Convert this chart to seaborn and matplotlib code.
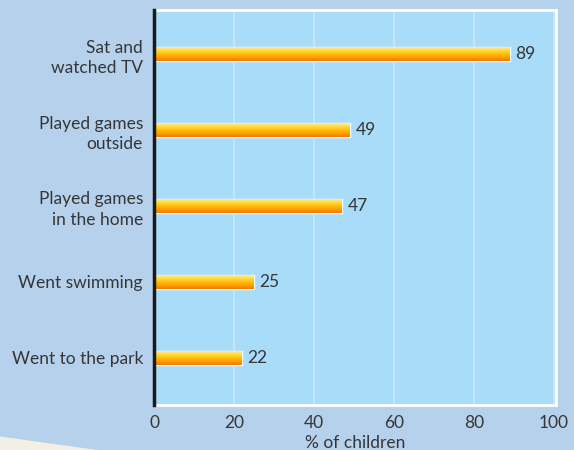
import numpy as np
import matplotlib.pyplot as plt
import seaborn as sns
import pandas as pd
from matplotlib.colors import LinearSegmentedColormap
from matplotlib.patches import Polygon

activities = [
    "Sat and\nwatched TV",
    "Played games\noutside",
    "Played games\nin the home",
    "Went swimming",
    "Went to the park",
]
percent = [89, 49, 47, 25, 22]
xticks = [0, 20, 40, 60, 80, 100]

df = pd.DataFrame({"activity": activities, "percent": percent})

sns.set_theme(style="white")
plt.rcParams["font.family"] = ["Lato", "DejaVu Sans"]

text_col = "#363636"
fs = 12.5
fig = plt.figure(figsize=(5.74, 4.5), dpi=100, facecolor="#b6d1ec")

# faint decorative swoosh bottom-left
fig.patches.append(
    Polygon([[0, 0], [0, 0.03], [0.17, 0.0]], closed=True,
            transform=fig.transFigure, facecolor="#f3efe2", edgecolor="none", zorder=0)
)

ax = fig.add_axes([0.2683, 0.1, 0.7003, 0.8778])
ax.set_facecolor("#a8dcf8")

sns.barplot(data=df, x="percent", y="activity", orient="h", width=0.19,
            color="#ffb300", edgecolor="white", linewidth=1.0, ax=ax, zorder=3)

# vertical gradient inside each bar: light yellow on top, orange at bottom
grad = LinearSegmentedColormap.from_list(
    "bar", ["#fff4c0", "#ffdc50", "#ffc20a", "#ffa000", "#f57800"])
g = np.linspace(0, 1, 64).reshape(-1, 1)
for p in ax.patches:
    x0, y0 = p.get_x(), p.get_y()
    w, h = p.get_width(), p.get_height()
    im = ax.imshow(g, cmap=grad, aspect="auto", interpolation="bilinear",
                   extent=[x0, x0 + w, y0 + h, y0], zorder=3.5)
    im.set_clip_path(p)
    ax.text(x0 + w + 1.4, y0 + h / 2, f"{w:.0f}", va="center", ha="left",
            fontsize=fs, color=text_col, zorder=5)

ax.set_xlim(0, 100.5)
ax.set_ylim(4.62, -0.58)
ax.set_xticks(xticks)
ax.set_xticklabels([str(t) for t in xticks])
ax.grid(axis="x", color="#c9e9fb", linewidth=1.2, zorder=1)
ax.set_axisbelow(True)

ax.tick_params(axis="both", length=0, labelsize=fs, colors=text_col)
ax.tick_params(axis="y", pad=8)
ax.tick_params(axis="x", pad=7)
ax.set_xlabel("% of children", fontsize=fs, color=text_col, labelpad=3)
ax.set_ylabel("")

for side in ["top", "right", "bottom"]:
    ax.spines[side].set_color("white")
    ax.spines[side].set_linewidth(2)
ax.spines["left"].set_color("#1a1a1a")
ax.spines["left"].set_linewidth(2.5)
ax.spines["left"].set_zorder(6)

for lbl in ax.get_yticklabels():
    lbl.set_multialignment("right")
    lbl.set_linespacing(1.35)

fig.savefig("out.png", dpi=100, facecolor=fig.get_facecolor())
